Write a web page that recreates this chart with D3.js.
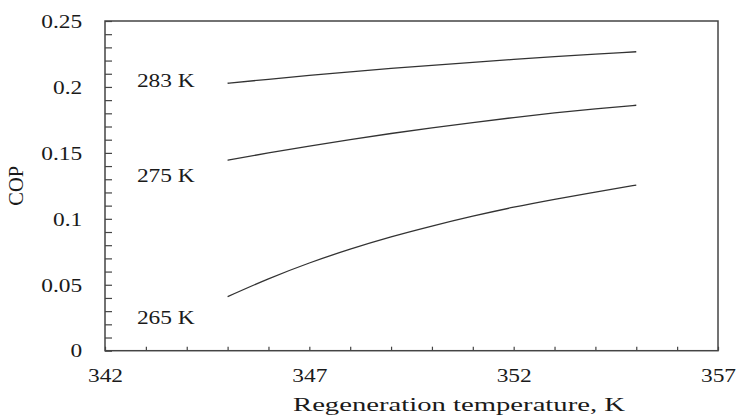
<!DOCTYPE html>
<html>
<head>
<meta charset="utf-8">
<script src="https://cdn.jsdelivr.net/npm/d3@7"></script>
<style>
  body { margin: 0; background: #fff; }
  svg { display: block; }
  text { font-family: "Liberation Serif", "Times New Roman", serif; }
</style>
</head>
<body>
<svg width="738" height="418"></svg>
<script>
// regeneration temperature, K
const regenTemp = [345, 346, 347, 348, 349, 350, 351, 352, 353, 354, 355];

// COP for each evaporator temperature
const cop283 = [0.2028, 0.2058, 0.2087, 0.2114, 0.2140, 0.2164, 0.2187, 0.2209, 0.2230, 0.2249, 0.2267];
const cop275 = [0.1444, 0.1500, 0.1552, 0.1601, 0.1647, 0.1690, 0.1730, 0.1768, 0.1803, 0.1834, 0.1861];
const cop265 = [0.0410, 0.0545, 0.0665, 0.0770, 0.0863, 0.0945, 0.1020, 0.1088, 0.1148, 0.1203, 0.1256];

const seriesNames = ["283 K", "275 K", "265 K"];
const seriesValues = [cop283, cop275, cop265];

const xTickLabels = [342, 347, 352, 357];
const yTickLabels = [0, 0.05, 0.1, 0.15, 0.2, 0.25];

const svg = d3.select("svg");
const margin = { top: 21, right: 20, bottom: 67.3, left: 105 };
const width = +svg.attr("width") - margin.left - margin.right;
const height = +svg.attr("height") - margin.top - margin.bottom;

const x = d3.scaleLinear().domain([342, 357]).range([0, width]);
const y = d3.scaleLinear().domain([0, 0.25]).range([height, 0]);

const g = svg.append("g")
    .attr("transform", `translate(${margin.left},${margin.top})`);

const ink = "#444";
const textInk = "#1a1a1a";
const serif = "Liberation Serif, Times New Roman, serif";
const stretch = "scale(1.2,1)";

// x axis, minor ticks every 1 K pointing inward
const xAxis = g.append("g")
    .attr("transform", `translate(0,${height})`)
    .call(d3.axisBottom(x)
        .tickValues(d3.range(342, 358, 1))
        .tickSize(-4)
        .tickPadding(17)
        .tickFormat(d => xTickLabels.includes(d) ? d : ""))
    .attr("font-family", serif)
    .attr("font-size", 19.5);
xAxis.select(".domain").remove();
xAxis.selectAll("line").attr("stroke", ink).attr("stroke-width", 1.2);
xAxis.selectAll("text")
    .attr("fill", textInk)
    .attr("transform", stretch);

// y axis, minor ticks every 0.01
const yAxis = g.append("g")
    .call(d3.axisLeft(y)
        .tickValues(d3.range(0, 26).map(i => i / 100))
        .tickSize(-7)
        .tickPadding(19)
        .tickFormat(d => {
            const v = yTickLabels.find(t => Math.abs(t - d) < 1e-9);
            return v === undefined ? "" : String(v);
        }))
    .attr("font-family", serif)
    .attr("font-size", 19.5);
yAxis.select(".domain").remove();
yAxis.selectAll("line").attr("stroke", ink).attr("stroke-width", 1.2);
yAxis.selectAll("text")
    .attr("fill", textInk)
    .attr("transform", stretch);

// plot frame
g.append("rect")
    .attr("width", width)
    .attr("height", height)
    .attr("fill", "none")
    .attr("stroke", ink)
    .attr("stroke-width", 1.5);

// curves
const line = d3.line()
    .x((d, i) => x(regenTemp[i]))
    .y(d => y(d))
    .curve(d3.curveMonotoneX);

g.selectAll(".curve")
    .data(seriesValues)
    .enter().append("path")
    .attr("class", "curve")
    .attr("d", line)
    .attr("fill", "none")
    .attr("stroke", "#333")
    .attr("stroke-width", 1.3);

// series labels (data-space anchors)
const labelX = 342.78;
const labelY = [0.2, 0.128, 0.02];
g.selectAll(".series-label")
    .data(seriesNames)
    .enter().append("text")
    .attr("class", "series-label")
    .attr("transform", (d, i) => `translate(${x(labelX)},${y(labelY[i])}) ${stretch}`)
    .attr("fill", textInk)
    .style("font-size", "19.5px")
    .text(d => d);

// axis titles
svg.append("text")
    .attr("x", 293)
    .attr("y", 411)
    .attr("textLength", 332)
    .attr("lengthAdjust", "spacingAndGlyphs")
    .attr("fill", textInk)
    .style("font-size", "19.5px")
    .text("Regeneration temperature, K");

svg.append("text")
    .attr("transform", `translate(23,${margin.top + y(0.125)}) rotate(-90)`)
    .attr("text-anchor", "middle")
    .attr("fill", textInk)
    .style("font-size", "20.5px")
    .text("COP");
</script>
</body>
</html>
